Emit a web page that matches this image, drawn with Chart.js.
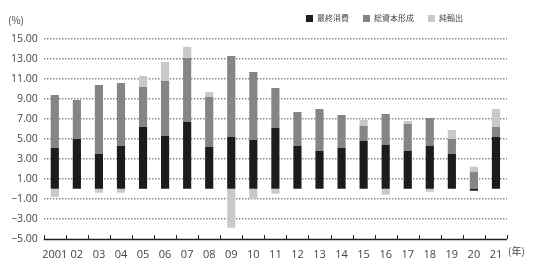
<!DOCTYPE html>
<html>
<head>
<meta charset="utf-8">
<script src="https://cdn.jsdelivr.net/npm/chart.js@4.4.1/dist/chart.umd.min.js"></script>
<style>
  html, body { margin: 0; padding: 0; background: #fff; }
  #wrap { position: relative; width: 540px; height: 264px; font-family: "Noto Sans CJK JP", "Noto Sans", sans-serif; color: #444; }
  #chart { position: absolute; left: 0; top: 0; }
  .lbl { position: absolute; font-size: 10px; white-space: nowrap; }
  #legend { position: absolute; top: 12px; left: 306px; font-size: 8px; display: flex; gap: 14px; }
  #legend span.sw { display: inline-block; width: 7px; height: 7px; margin-right: 4px; vertical-align: -1px; }
</style>
</head>
<body>
<div id="wrap">
  <canvas id="chart" width="540" height="264"></canvas>
  <div class="lbl" style="left:8px; top:12px;">(%)</div>
  <div class="lbl" style="left:508px; top:243px; font-size:10px;">(年)</div>
  <div id="legend"></div>
</div>
<script>
const years = ["2001", "02", "03", "04", "05", "06", "07", "08", "09", "10", "11",
               "12", "13", "14", "15", "16", "17", "18", "19", "20", "21"];
const consumption = [4.1, 5.0, 3.5, 4.3, 6.2, 5.3, 6.7, 4.2, 5.2, 4.9, 6.1,
                     4.3, 3.8, 4.1, 4.8, 4.4, 3.8, 4.3, 3.5, -0.2, 5.2];
const investment  = [5.3, 3.9, 6.9, 6.3, 4.0, 5.5, 6.4, 5.0, 8.1, 6.8, 4.0,
                     3.4, 4.2, 3.3, 1.5, 3.1, 2.7, 2.8, 1.5, 1.7, 1.0];
const netExports  = [-0.8, 0, -0.4, -0.4, 1.1, 1.9, 1.1, 0.5, -3.9, -1.0, -0.5,
                     0, 0, 0, 0.6, -0.6, 0.3, -0.3, 0.9, 0.5, 1.8];
const seriesNames = ["最終消費", "総資本形成", "純輸出"];
const seriesColors = ["#1c1c1c", "#858585", "#c9c9c9"];

const legend = document.getElementById("legend");
seriesNames.forEach((name, i) => {
  const item = document.createElement("div");
  item.innerHTML = `<span class="sw" style="background:${seriesColors[i]}"></span>${name}`;
  legend.appendChild(item);
});

// small tick marks between categories on the bottom axis
const catTicks = {
  id: "catTicks",
  afterDraw(chart) {
    const x = chart.scales.x, y = chart.scales.y;
    const c = chart.ctx;
    const base = Math.round(y.getPixelForValue(-5));
    c.save();
    c.strokeStyle = "#222";
    c.lineWidth = 1;
    for (let i = 0; i <= years.length; i++) {
      const px = Math.round(i === 0 ? x.left : i === years.length ? x.right
        : (x.getPixelForValue(i - 1) + x.getPixelForValue(i)) / 2) + 0.5;
      c.beginPath();
      c.moveTo(px, base);
      c.lineTo(px, base - 4);
      c.stroke();
    }
    c.lineWidth = 1.5;
    c.beginPath();
    c.moveTo(x.left, base + 0.5);
    c.lineTo(x.right, base + 0.5);
    c.stroke();
    c.restore();
  }
};

new Chart(document.getElementById("chart"), {
  type: "bar",
  data: {
    labels: years,
    datasets: [
      { label: seriesNames[0], data: consumption, backgroundColor: seriesColors[0] },
      { label: seriesNames[1], data: investment, backgroundColor: seriesColors[1] },
      { label: seriesNames[2], data: netExports, backgroundColor: seriesColors[2] }
    ]
  },
  options: {
    responsive: false,
    animation: false,
    layout: { padding: { top: 39, right: 33, left: 5, bottom: 2 } },
    datasets: { bar: { barPercentage: 0.74, categoryPercentage: 0.5 } },
    plugins: { legend: { display: false }, tooltip: { enabled: false } },
    scales: {
      x: {
        stacked: true,
        grid: { display: false },
        border: { display: false },
        ticks: { color: "#444", font: { size: 11, family: "Open Sans" }, padding: 1, maxRotation: 0, autoSkip: false }
      },
      y: {
        stacked: true,
        min: -5, max: 15,
        border: {
          display: false,
          dash: ctx => ctx.tick && ctx.tick.value === 0 ? [] : [1.5, 1.5]
        },
        grid: {
          drawTicks: false,
          color: ctx => ctx.tick.value === -5 ? "rgba(0,0,0,0)" : ctx.tick.value === 0 ? "#555" : "#8a8a8a",
          lineWidth: 1.5
        },
        ticks: {
          stepSize: 2,
          padding: 6,
          color: "#444",
          font: { size: 10.5, family: "Open Sans" },
          callback: v => v.toFixed(2).replace("-", "−")
        }
      }
    }
  },
  plugins: [catTicks]
});
</script>
</body>
</html>
